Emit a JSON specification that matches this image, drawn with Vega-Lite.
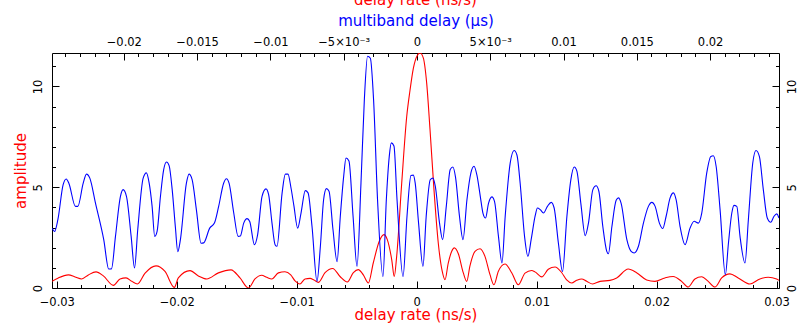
{
  "$schema": "https://vega.github.io/schema/vega-lite/v6.json",
  "width": 727,
  "height": 235,
  "autosize": "none",
  "padding": {"left": 52, "top": 53, "right": 30, "bottom": 37},
  "background": "white",
  "title": {"text": "delay rate (ns/s)", "color": "#ff0000", "font": "DejaVu Sans", "fontSize": 15, "fontWeight": "normal", "anchor": "middle", "offset": 6},
  "config": {
    "font": "DejaVu Sans",
    "view": {"stroke": null},
    "axis": {
      "labelFont": "DejaVu Sans", "labelFontSize": 11.5, "titleFont": "DejaVu Sans", "titleFontSize": 15, "titleFontWeight": "normal",
      "domainColor": "#000000", "tickColor": "#000000", "labelColor": "#000000", "grid": false,
      "labelOverlap": false, "labelFlush": false, "labelBound": false, "domainWidth": 1, "tickWidth": 1
    }
  },
  "datasets": {
    "red": [
      {"rate": -0.0304, "amp": 0.33}, {"rate": -0.02987, "amp": 0.5}, {"rate": -0.02903, "amp": 0.65}, {"rate": -0.02848, "amp": 0.55},
      {"rate": -0.02792, "amp": 0.45}, {"rate": -0.02737, "amp": 0.65}, {"rate": -0.02673, "amp": 0.8}, {"rate": -0.02612, "amp": 0.6},
      {"rate": -0.02528, "amp": 0.13}, {"rate": -0.02473, "amp": 0.45}, {"rate": -0.02423, "amp": 0.5}, {"rate": -0.02375, "amp": 0.33},
      {"rate": -0.02328, "amp": 0.2}, {"rate": -0.02264, "amp": 0.74}, {"rate": -0.02173, "amp": 1.1}, {"rate": -0.02098, "amp": 0.82},
      {"rate": -0.0202, "amp": 0.03}, {"rate": -0.01987, "amp": 0.5}, {"rate": -0.01889, "amp": 0.86}, {"rate": -0.0182, "amp": 0.6},
      {"rate": -0.0175, "amp": 0.45}, {"rate": -0.01653, "amp": 0.75}, {"rate": -0.01548, "amp": 0.9}, {"rate": -0.01473, "amp": 0.5},
      {"rate": -0.01403, "amp": 0.0}, {"rate": -0.01348, "amp": 0.45}, {"rate": -0.01292, "amp": 0.63}, {"rate": -0.0125, "amp": 0.53},
      {"rate": -0.01208, "amp": 0.45}, {"rate": -0.01153, "amp": 0.75}, {"rate": -0.01098, "amp": 0.81}, {"rate": -0.0105, "amp": 0.65},
      {"rate": -0.01014, "amp": 0.35}, {"rate": -0.00973, "amp": 0.2}, {"rate": -0.00931, "amp": 0.45}, {"rate": -0.00889, "amp": 0.48},
      {"rate": -0.00856, "amp": 0.4}, {"rate": -0.0082, "amp": 0.28}, {"rate": -0.00764, "amp": 0.76}, {"rate": -0.007, "amp": 0.97},
      {"rate": -0.00639, "amp": 0.57}, {"rate": -0.00578, "amp": 0.3}, {"rate": -0.00528, "amp": 0.76}, {"rate": -0.00487, "amp": 0.91},
      {"rate": -0.00445, "amp": 0.65}, {"rate": -0.00403, "amp": 0.25}, {"rate": -0.00362, "amp": 1.24}, {"rate": -0.00312, "amp": 2.32},
      {"rate": -0.00273, "amp": 2.65}, {"rate": -0.00245, "amp": 2.4}, {"rate": -0.00208, "amp": 1.4}, {"rate": -0.00187, "amp": 0.57},
      {"rate": -0.00167, "amp": 1.57}, {"rate": -0.00125, "amp": 5.2}, {"rate": -0.00083, "amp": 8.52}, {"rate": -0.00056, "amp": 9.8},
      {"rate": -0.00028, "amp": 10.9}, {"rate": 0.00005, "amp": 11.54}, {"rate": 0.00028, "amp": 11.66}, {"rate": 0.00055, "amp": 11.42},
      {"rate": 0.00083, "amp": 10.18}, {"rate": 0.00111, "amp": 7.86}, {"rate": 0.00144, "amp": 4.88}, {"rate": 0.0018, "amp": 2.22},
      {"rate": 0.00213, "amp": 0.82}, {"rate": 0.00236, "amp": 0.41}, {"rate": 0.00263, "amp": 1.24}, {"rate": 0.00292, "amp": 1.82},
      {"rate": 0.00313, "amp": 1.99}, {"rate": 0.00347, "amp": 1.7}, {"rate": 0.00388, "amp": 0.76}, {"rate": 0.00417, "amp": 0.33},
      {"rate": 0.00444, "amp": 1.1}, {"rate": 0.00486, "amp": 1.82}, {"rate": 0.00528, "amp": 1.95}, {"rate": 0.00569, "amp": 1.57},
      {"rate": 0.00611, "amp": 0.66}, {"rate": 0.00644, "amp": 0.16}, {"rate": 0.0068, "amp": 0.82}, {"rate": 0.00736, "amp": 1.19},
      {"rate": 0.00792, "amp": 0.76}, {"rate": 0.00847, "amp": 0.16}, {"rate": 0.00903, "amp": 0.74}, {"rate": 0.00958, "amp": 0.87},
      {"rate": 0.00986, "amp": 0.8}, {"rate": 0.01042, "amp": 0.55}, {"rate": 0.01097, "amp": 0.93}, {"rate": 0.01153, "amp": 1.04},
      {"rate": 0.01208, "amp": 0.77}, {"rate": 0.0125, "amp": 0.4}, {"rate": 0.01292, "amp": 0.25}, {"rate": 0.01333, "amp": 0.38},
      {"rate": 0.01375, "amp": 0.45}, {"rate": 0.01417, "amp": 0.33}, {"rate": 0.01467, "amp": 0.2}, {"rate": 0.01528, "amp": 0.33},
      {"rate": 0.01611, "amp": 0.38}, {"rate": 0.01667, "amp": 0.5}, {"rate": 0.01763, "amp": 0.94}, {"rate": 0.01833, "amp": 0.76},
      {"rate": 0.01917, "amp": 0.4}, {"rate": 0.01986, "amp": 0.33}, {"rate": 0.02069, "amp": 0.5}, {"rate": 0.02138, "amp": 0.57},
      {"rate": 0.02208, "amp": 0.33}, {"rate": 0.02263, "amp": 0.05}, {"rate": 0.02319, "amp": 0.45}, {"rate": 0.02375, "amp": 0.56},
      {"rate": 0.0243, "amp": 0.33}, {"rate": 0.02486, "amp": 0.05}, {"rate": 0.02542, "amp": 0.5}, {"rate": 0.02611, "amp": 0.7},
      {"rate": 0.0268, "amp": 0.5}, {"rate": 0.02778, "amp": 0.2}, {"rate": 0.02861, "amp": 0.45}, {"rate": 0.0293, "amp": 0.53},
      {"rate": 0.03, "amp": 0.45}, {"rate": 0.0302, "amp": 0.38}
    ],
    "blue": [
      {"mbd": -0.02489, "amp": 2.97}, {"mbd": -0.02473, "amp": 2.8}, {"mbd": -0.0245, "amp": 3.39}, {"mbd": -0.02414, "amp": 5.13},
      {"mbd": -0.02393, "amp": 5.41}, {"mbd": -0.02375, "amp": 5.2}, {"mbd": -0.0233, "amp": 4.05}, {"mbd": -0.02314, "amp": 4.05},
      {"mbd": -0.02277, "amp": 5.2}, {"mbd": -0.02255, "amp": 5.65}, {"mbd": -0.02232, "amp": 5.45}, {"mbd": -0.02193, "amp": 4.2},
      {"mbd": -0.02137, "amp": 2.4}, {"mbd": -0.02103, "amp": 0.94}, {"mbd": -0.02084, "amp": 0.95}, {"mbd": -0.02057, "amp": 2.56},
      {"mbd": -0.02023, "amp": 4.55}, {"mbd": -0.02005, "amp": 4.88}, {"mbd": -0.01982, "amp": 4.55}, {"mbd": -0.0195, "amp": 2.56},
      {"mbd": -0.01927, "amp": 0.99}, {"mbd": -0.01905, "amp": 2.9}, {"mbd": -0.01868, "amp": 5.45}, {"mbd": -0.01846, "amp": 5.71},
      {"mbd": -0.01827, "amp": 5.2}, {"mbd": -0.01807, "amp": 4.05}, {"mbd": -0.01789, "amp": 2.56}, {"mbd": -0.01773, "amp": 2.81},
      {"mbd": -0.0175, "amp": 4.55}, {"mbd": -0.01728, "amp": 5.87}, {"mbd": -0.01709, "amp": 6.25}, {"mbd": -0.01691, "amp": 6.07},
      {"mbd": -0.0167, "amp": 4.88}, {"mbd": -0.01648, "amp": 3.0}, {"mbd": -0.01632, "amp": 1.8}, {"mbd": -0.01614, "amp": 2.4},
      {"mbd": -0.01573, "amp": 5.2}, {"mbd": -0.01555, "amp": 5.65}, {"mbd": -0.01534, "amp": 5.38}, {"mbd": -0.01505, "amp": 3.89},
      {"mbd": -0.01473, "amp": 2.22}, {"mbd": -0.01455, "amp": 2.24}, {"mbd": -0.01414, "amp": 2.97}, {"mbd": -0.01382, "amp": 3.22},
      {"mbd": -0.01353, "amp": 4.05}, {"mbd": -0.01319, "amp": 5.2}, {"mbd": -0.013, "amp": 5.42}, {"mbd": -0.01282, "amp": 5.2},
      {"mbd": -0.0125, "amp": 3.72}, {"mbd": -0.0122, "amp": 2.56}, {"mbd": -0.01205, "amp": 2.58}, {"mbd": -0.01182, "amp": 3.22},
      {"mbd": -0.01159, "amp": 3.44}, {"mbd": -0.01141, "amp": 3.3}, {"mbd": -0.01109, "amp": 2.15}, {"mbd": -0.01087, "amp": 2.65},
      {"mbd": -0.01057, "amp": 4.55}, {"mbd": -0.0103, "amp": 4.92}, {"mbd": -0.01012, "amp": 4.63}, {"mbd": -0.00989, "amp": 3.22},
      {"mbd": -0.00968, "amp": 2.15}, {"mbd": -0.00955, "amp": 2.07}, {"mbd": -0.0092, "amp": 4.72}, {"mbd": -0.00898, "amp": 5.65},
      {"mbd": -0.0088, "amp": 5.65}, {"mbd": -0.00859, "amp": 4.95}, {"mbd": -0.0084, "amp": 4.1}, {"mbd": -0.00814, "amp": 2.97},
      {"mbd": -0.00791, "amp": 3.72}, {"mbd": -0.00762, "amp": 4.83}, {"mbd": -0.00743, "amp": 4.72}, {"mbd": -0.00716, "amp": 3.05},
      {"mbd": -0.00682, "amp": 0.33}, {"mbd": -0.00659, "amp": 2.07}, {"mbd": -0.00637, "amp": 4.38}, {"mbd": -0.00618, "amp": 4.93},
      {"mbd": -0.006, "amp": 4.8}, {"mbd": -0.00573, "amp": 2.9}, {"mbd": -0.00545, "amp": 1.31}, {"mbd": -0.00523, "amp": 3.56},
      {"mbd": -0.005, "amp": 5.54}, {"mbd": -0.00484, "amp": 6.45}, {"mbd": -0.00464, "amp": 6.3}, {"mbd": -0.00436, "amp": 3.56},
      {"mbd": -0.00409, "amp": 1.07}, {"mbd": -0.00382, "amp": 5.2}, {"mbd": -0.00359, "amp": 9.34}, {"mbd": -0.00337, "amp": 11.5},
      {"mbd": -0.00318, "amp": 11.4}, {"mbd": -0.00296, "amp": 9.34}, {"mbd": -0.00269, "amp": 4.38}, {"mbd": -0.00232, "amp": 0.57},
      {"mbd": -0.00209, "amp": 4.38}, {"mbd": -0.00189, "amp": 6.53}, {"mbd": -0.00175, "amp": 7.2}, {"mbd": -0.00157, "amp": 7.05},
      {"mbd": -0.00136, "amp": 4.38}, {"mbd": -0.00095, "amp": 0.57}, {"mbd": -0.00068, "amp": 3.56}, {"mbd": -0.00041, "amp": 5.58},
      {"mbd": -0.00025, "amp": 5.6}, {"mbd": -0.00012, "amp": 5.2}, {"mbd": 0.00011, "amp": 3.22}, {"mbd": 0.00041, "amp": 1.07},
      {"mbd": 0.00063, "amp": 3.56}, {"mbd": 0.00091, "amp": 5.38}, {"mbd": 0.00109, "amp": 5.45}, {"mbd": 0.00125, "amp": 5.05},
      {"mbd": 0.00154, "amp": 3.22}, {"mbd": 0.00175, "amp": 2.4}, {"mbd": 0.002, "amp": 4.05}, {"mbd": 0.00227, "amp": 5.88},
      {"mbd": 0.00245, "amp": 6.0}, {"mbd": 0.00263, "amp": 5.5}, {"mbd": 0.0029, "amp": 3.56}, {"mbd": 0.00314, "amp": 2.4},
      {"mbd": 0.00341, "amp": 4.38}, {"mbd": 0.00368, "amp": 5.71}, {"mbd": 0.00389, "amp": 6.04}, {"mbd": 0.00409, "amp": 5.6},
      {"mbd": 0.00432, "amp": 4.55}, {"mbd": 0.0045, "amp": 3.72}, {"mbd": 0.00468, "amp": 3.47}, {"mbd": 0.00488, "amp": 4.2},
      {"mbd": 0.00511, "amp": 4.52}, {"mbd": 0.00529, "amp": 4.3}, {"mbd": 0.00556, "amp": 2.56}, {"mbd": 0.0058, "amp": 1.24},
      {"mbd": 0.00602, "amp": 3.56}, {"mbd": 0.00636, "amp": 6.2}, {"mbd": 0.00663, "amp": 6.82}, {"mbd": 0.00682, "amp": 6.6},
      {"mbd": 0.00704, "amp": 5.2}, {"mbd": 0.00734, "amp": 2.56}, {"mbd": 0.00757, "amp": 1.57}, {"mbd": 0.00779, "amp": 2.4},
      {"mbd": 0.00807, "amp": 3.6}, {"mbd": 0.00822, "amp": 3.97}, {"mbd": 0.00841, "amp": 3.89}, {"mbd": 0.00863, "amp": 3.72},
      {"mbd": 0.0089, "amp": 4.05}, {"mbd": 0.00916, "amp": 4.25}, {"mbd": 0.00936, "amp": 3.97}, {"mbd": 0.00965, "amp": 2.22},
      {"mbd": 0.00993, "amp": 0.82}, {"mbd": 0.01023, "amp": 3.56}, {"mbd": 0.0105, "amp": 5.38}, {"mbd": 0.01073, "amp": 6.0},
      {"mbd": 0.01091, "amp": 5.8}, {"mbd": 0.01118, "amp": 4.2}, {"mbd": 0.01148, "amp": 2.6}, {"mbd": 0.0117, "amp": 3.22},
      {"mbd": 0.012, "amp": 4.88}, {"mbd": 0.01222, "amp": 5.07}, {"mbd": 0.01241, "amp": 4.8}, {"mbd": 0.01268, "amp": 3.05},
      {"mbd": 0.01295, "amp": 1.82}, {"mbd": 0.01306, "amp": 1.7}, {"mbd": 0.0133, "amp": 3.05}, {"mbd": 0.01359, "amp": 4.35},
      {"mbd": 0.01375, "amp": 4.47}, {"mbd": 0.01393, "amp": 4.2}, {"mbd": 0.01432, "amp": 2.4}, {"mbd": 0.01461, "amp": 1.82},
      {"mbd": 0.01482, "amp": 1.74}, {"mbd": 0.01511, "amp": 2.07}, {"mbd": 0.01545, "amp": 3.22}, {"mbd": 0.01579, "amp": 4.05},
      {"mbd": 0.01602, "amp": 4.25}, {"mbd": 0.01625, "amp": 4.05}, {"mbd": 0.01654, "amp": 3.22}, {"mbd": 0.01677, "amp": 2.95},
      {"mbd": 0.017, "amp": 3.56}, {"mbd": 0.01727, "amp": 4.47}, {"mbd": 0.0175, "amp": 4.72}, {"mbd": 0.01768, "amp": 4.38},
      {"mbd": 0.01795, "amp": 3.05}, {"mbd": 0.01829, "amp": 2.15}, {"mbd": 0.01863, "amp": 2.97}, {"mbd": 0.01891, "amp": 3.31},
      {"mbd": 0.0192, "amp": 3.22}, {"mbd": 0.01943, "amp": 3.72}, {"mbd": 0.01977, "amp": 5.71}, {"mbd": 0.02005, "amp": 6.53},
      {"mbd": 0.02022, "amp": 6.56}, {"mbd": 0.02041, "amp": 6.04}, {"mbd": 0.02068, "amp": 3.89}, {"mbd": 0.02104, "amp": 0.66},
      {"mbd": 0.02125, "amp": 2.22}, {"mbd": 0.02148, "amp": 3.72}, {"mbd": 0.02163, "amp": 4.1}, {"mbd": 0.02182, "amp": 4.05},
      {"mbd": 0.02204, "amp": 2.56}, {"mbd": 0.02238, "amp": 1.24}, {"mbd": 0.02261, "amp": 3.39}, {"mbd": 0.02291, "amp": 6.2},
      {"mbd": 0.02313, "amp": 6.82}, {"mbd": 0.02336, "amp": 6.53}, {"mbd": 0.02363, "amp": 4.88}, {"mbd": 0.0239, "amp": 3.47},
      {"mbd": 0.02414, "amp": 3.26}, {"mbd": 0.02436, "amp": 3.56}, {"mbd": 0.02455, "amp": 3.68}, {"mbd": 0.0247, "amp": 3.47}
    ]
  },
  "layer": [
    {
      "data": {"name": "red"},
      "mark": {"type": "line", "color": "#ff0000", "strokeWidth": 1.1, "clip": true, "interpolate": "monotone"},
      "encoding": {
        "x": {
          "field": "rate", "type": "quantitative",
          "scale": {"domain": [-0.0304, 0.0302], "nice": false, "zero": false},
          "axis": {
            "orient": "bottom",
            "values": [-0.03, -0.028, -0.026, -0.024, -0.022, -0.02, -0.018, -0.016, -0.014, -0.012, -0.01, -0.008, -0.006, -0.004, -0.002, 0, 0.002, 0.004, 0.006, 0.008, 0.01, 0.012, 0.014, 0.016, 0.018, 0.02, 0.022, 0.024, 0.026, 0.028, 0.03],
            "format": ".2~f",
            "labelExpr": "abs(round(datum.value*500)) % 5 != 0 ? '' : datum.label",
            "tickSize": {"condition": {"test": "abs(round(datum.value*500)) % 5 == 0", "value": -7}, "value": -3.5},
            "labelPadding": 15,
            "title": "delay rate (ns/s)", "titleColor": "#ff0000", "titlePadding": -4
          }
        },
        "y": {
          "field": "amp", "type": "quantitative",
          "scale": {"domain": [0, 11.66], "nice": false, "zero": true},
          "axis": {
            "orient": "left",
            "values": [0, 1, 2, 3, 4, 5, 6, 7, 8, 9, 10, 11],
            "labelExpr": "datum.value % 5 == 0 ? datum.label : ''",
            "tickSize": {"condition": {"test": "datum.value % 5 == 0", "value": -7}, "value": -3.5},
            "labelAngle": 270, "labelAlign": "center", "labelBaseline": "bottom",
            "labelPadding": 16,
            "title": "amplitude", "titleColor": "#ff0000", "titlePadding": 0
          }
        }
      }
    },
    {
      "data": {"name": "blue"},
      "mark": {"type": "line", "color": "#0000ff", "strokeWidth": 1.1, "clip": true, "interpolate": "monotone"},
      "encoding": {
        "x": {
          "field": "mbd", "type": "quantitative",
          "scale": {"domain": [-0.0249, 0.0247], "nice": false, "zero": false},
          "axis": {
            "orient": "top",
            "values": [-0.024, -0.023, -0.022, -0.021, -0.02, -0.019, -0.018, -0.017, -0.016, -0.015, -0.014, -0.013, -0.012, -0.011, -0.01, -0.009, -0.008, -0.007, -0.006, -0.005, -0.004, -0.003, -0.002, -0.001, 0, 0.001, 0.002, 0.003, 0.004, 0.005, 0.006, 0.007, 0.008, 0.009, 0.01, 0.011, 0.012, 0.013, 0.014, 0.015, 0.016, 0.017, 0.018, 0.019, 0.02, 0.021, 0.022, 0.023, 0.024],
            "format": ".3~f",
            "labelExpr": "abs(round(datum.value*1000)) % 5 != 0 ? '' : abs(datum.value + 0.005) < 0.000001 ? '−5×10⁻³' : abs(datum.value - 0.005) < 0.000001 ? '5×10⁻³' : datum.label",
            "tickSize": {"condition": {"test": "abs(round(datum.value*1000)) % 5 == 0", "value": -7}, "value": -3.5},
            "labelPadding": 13,
            "title": "multiband delay (μs)", "titleColor": "#0000ff", "titlePadding": 4
          }
        },
        "y": {
          "field": "amp", "type": "quantitative",
          "scale": {"domain": [0, 11.66], "nice": false, "zero": true},
          "axis": {
            "orient": "right",
            "values": [0, 1, 2, 3, 4, 5, 6, 7, 8, 9, 10, 11],
            "labelExpr": "datum.value % 5 == 0 ? datum.label : ''",
            "tickSize": {"condition": {"test": "datum.value % 5 == 0", "value": -7}, "value": -3.5},
            "labelAngle": 270, "labelAlign": "center", "labelBaseline": "top",
            "labelPadding": 14,
            "title": "amplitude", "titleColor": "#0000ff", "titlePadding": 8
          }
        }
      }
    }
  ],
  "resolve": {"scale": {"x": "independent", "y": "independent"}, "axis": {"x": "independent", "y": "independent"}}
}
